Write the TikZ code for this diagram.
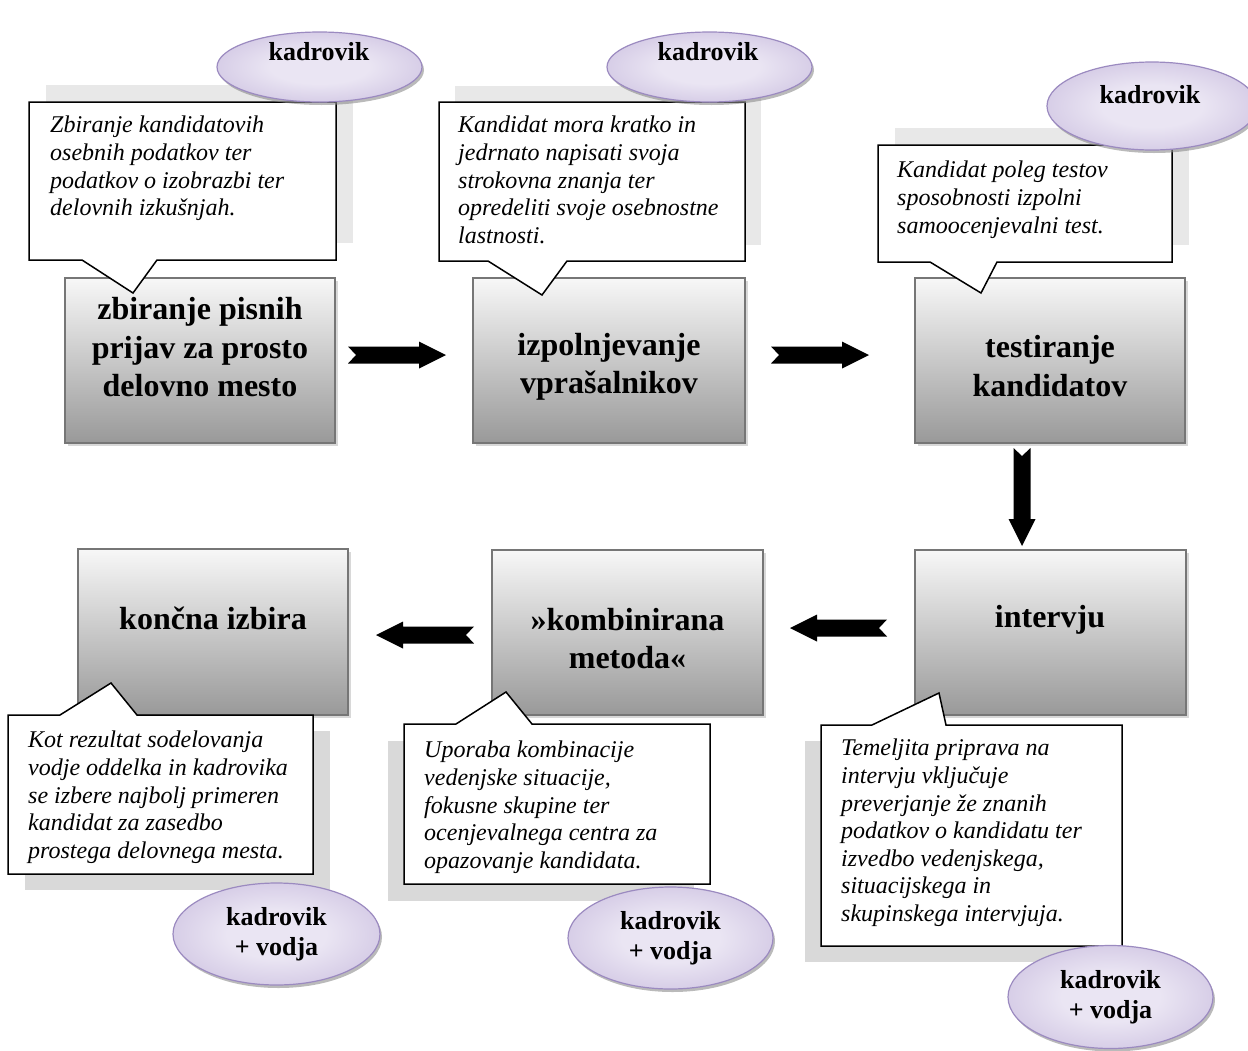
\documentclass[tikz,border=0pt]{standalone}
\usepackage{fontspec}
\setmainfont{Liberation Serif}
\usetikzlibrary{shapes.geometric,shadows,calc}

\definecolor{boxline}{RGB}{118,118,118}
\definecolor{lavin}{RGB}{234,229,243}
\definecolor{lavout}{RGB}{178,161,208}
\definecolor{lavline}{RGB}{155,138,192}
\pgfdeclareradialshading{lavender}{\pgfpoint{0bp}{0bp}}{color(0bp)=(lavin); color(12bp)=(lavin); color(50bp)=(lavout)}

\tikzset{
  stepbox/.style={rectangle, draw=boxline, line width=2pt, minimum width=270pt, minimum height=165pt,
    top color=black!3, bottom color=black!40,
    drop shadow={shadow xshift=3pt, shadow yshift=-3pt, fill=black!30}},
  boxtext/.style={font=\fontsize{32}{38.5}\selectfont\bfseries, align=center, inner sep=0pt},
  note/.style={draw=black, fill=white, line width=1.5pt, line join=miter},
  noteshadow/.style={fill=black!#1},
  notetext/.style={font=\fontsize{24}{27.6}\selectfont\itshape, align=left, inner sep=0pt, anchor=north west},
  role/.style={ellipse, draw=lavline, line width=1.2pt, shading=lavender, minimum width=205pt, minimum height=70pt,
    inner sep=0pt, align=center, font=\fontsize{26}{30}\selectfont\bfseries,
    drop shadow={shadow xshift=2pt, shadow yshift=-3pt, fill=black!45, opacity=.6}},
  roletext/.style={font=\fontsize{26}{30}\selectfont\bfseries, inner sep=0pt},
  % notched block arrow between two coordinates
  flow/.style={fill=black, draw=none, to path={
    ($(\tikztotarget)!27pt!(\tikztostart)$) coordinate (fh)
    ($(\tikztostart)!8.5pt!90:(\tikztotarget)$) -- ($(fh)!8.5pt!-90:(\tikztostart)$)
    -- ($(fh)!13.5pt!-90:(\tikztostart)$) -- (\tikztotarget)
    -- ($(fh)!13.5pt!90:(\tikztostart)$) -- ($(fh)!8.5pt!90:(\tikztostart)$)
    -- ($(\tikztostart)!8.5pt!-90:(\tikztotarget)$) -- ($(\tikztostart)!8pt!(\tikztotarget)$) -- cycle}}
}

\begin{document}
\begin{tikzpicture}[x=1pt, y=-1pt]
  \useasboundingbox (0,0) rectangle (1248,1050);

  % steps of the selection
  \node[stepbox] (zbir) at (200,360.5) {};
  \node[stepbox, minimum width=272pt] (izpol) at (609,360.5) {};
  \node[stepbox] (test) at (1050,360.5) {};
  \node[stepbox, minimum height=166pt] (konc) at (213,632) {};
  \node[stepbox, minimum width=271pt] (komb) at (627.5,632.5) {};
  \node[stepbox, minimum width=271pt] (interv) at (1050.5,632.5) {};

  \node[boxtext] (zbir-t) at (200,347.5) {zbiranje pisnih\\prijav za prosto\\delovno mesto};
  \node[boxtext] (izpol-t) at (609,367) {izpolnjevanje\\vprašalnikov};
  \node[boxtext] (test-t) at (1050,366) {testiranje\\kandidatov};
  \node[boxtext] (konc-t) at (213,618) {končna izbira};
  \node[boxtext] (komb-t) at (627.5,638.5) {»kombinirana\\metoda«};
  \node[boxtext] (interv-t) at (1050,620) {intervju};

  % block arrows
  \coordinate (a1s) at ($(zbir.east)+(12,-5.5)$);
  \coordinate (a1e) at ($(izpol.west)+(-26,-5.5)$);
  \coordinate (a2s) at ($(izpol.east)+(25,-5.5)$);
  \coordinate (a2e) at ($(test.west)+(-45,-5.5)$);
  \coordinate (a3s) at ($(test.south)+(-28,4)$);
  \coordinate (a3e) at ($(interv.north)+(-28.5,-3)$);
  \coordinate (a4s) at ($(interv.west)+(-27,-4.5)$);
  \coordinate (a4e) at ($(komb.east)+(26,-4.5)$);
  \coordinate (a5s) at ($(komb.west)+(-17,2.5)$);
  \coordinate (a5e) at ($(konc.east)+(27,3)$);
  \fill[flow] (a1s) to (a1e);
  \fill[flow] (a2s) to (a2e);
  \fill[flow] (a3s) to (a3e);
  \fill[flow] (a4s) to (a4e);
  \fill[flow] (a5s) to (a5e);

  % callouts, top row
  \fill[noteshadow=9] (46,85) rectangle (353,243);
  \draw[note] (29,102) -- (336,102) -- (336,260) -- (157,260) -- (133,293) -- (82,260) -- (29,260) -- cycle;
  \node[notetext] (zbir-n) at (50,116) {Zbiranje kandidatovih\\osebnih podatkov ter\\podatkov o izobrazbi ter\\delovnih izkušnjah.};

  \fill[noteshadow=9] (455,86) rectangle (761,245);
  \draw[note] (439,102) -- (745,102) -- (745,261) -- (567,261) -- (542,295) -- (488,261) -- (439,261) -- cycle;
  \node[notetext] (izpol-n) at (458,116) {Kandidat mora kratko in\\jedrnato napisati svoja\\strokovna znanja ter\\opredeliti svoje osebnostne\\lastnosti.};

  \fill[noteshadow=9] (895,128) rectangle (1189,245);
  \draw[note] (878,145) -- (1172,145) -- (1172,262) -- (997,262) -- (981,293) -- (930,262) -- (878,262) -- cycle;
  \node[notetext] (test-n) at (897,161) {Kandidat poleg testov\\sposobnosti izpolni\\samoocenjevalni test.};

  % callouts, bottom row
  \fill[noteshadow=15] (25,731) rectangle (330,890);
  \draw[note] (8,715) -- (60,715) -- (111,683) -- (137,715) -- (313,715) -- (313,874) -- (8,874) -- cycle;
  \node[notetext] (konc-n) at (28,731) {Kot rezultat sodelovanja\\vodje oddelka in kadrovika\\se izbere najbolj primeren\\kandidat za zasedbo\\prostega delovnega mesta.};

  \fill[noteshadow=15] (388,741) rectangle (694,901);
  \draw[note] (404,724) -- (456,724) -- (506,692) -- (532,724) -- (710,724) -- (710,884) -- (404,884) -- cycle;
  \node[notetext] (komb-n) at (424,741) {Uporaba kombinacije\\vedenjske situacije,\\fokusne skupine ter\\ocenjevalnega centra za\\opazovanje kandidata.};

  \fill[noteshadow=15] (805,741) rectangle (1106,962);
  \draw[note] (821,725) -- (872,725) -- (939,693) -- (946,725) -- (1122,725) -- (1122,946) -- (821,946) -- cycle;
  \node[notetext] (interv-n) at (841,739) {Temeljita priprava na\\intervju vključuje\\preverjanje že znanih\\podatkov o kandidatu ter\\izvedbo vedenjskega,\\situacijskega in\\skupinskega intervjuja.};

  % who takes part
  \node[role] (zbir-r) at (319.5,67) {};
  \node[roletext] (zbir-rt) at (319,52) {kadrovik};
  \node[role] (izpol-r) at (709.5,67) {};
  \node[roletext] (izpol-rt) at (708,52) {kadrovik};
  \node[role, minimum width=210pt, minimum height=88pt] (test-r) at (1152,106) {};
  \node[roletext] (test-rt) at (1150,95) {kadrovik};
  \node[role, minimum width=207pt, minimum height=102pt] (konc-r) at (276.5,934) {kadrovik\\+ vodja};
  \node[role, minimum height=102pt] (komb-r) at (670.5,938) {kadrovik\\+ vodja};
  \node[role, minimum height=103pt] (interv-r) at (1110.5,997) {kadrovik\\+ vodja};
\end{tikzpicture}
\end{document}
